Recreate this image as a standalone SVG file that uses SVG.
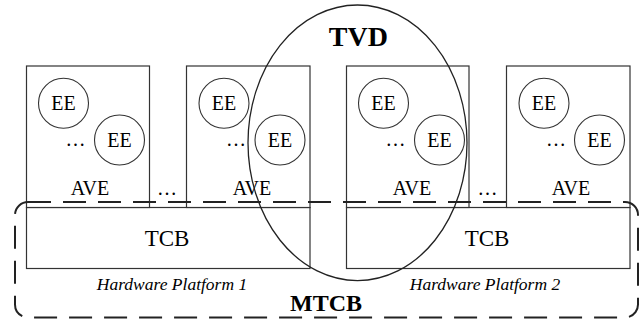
<svg xmlns="http://www.w3.org/2000/svg" width="639" height="320" viewBox="0 0 639 320" font-family="'Liberation Serif', 'DejaVu Serif', serif">
<style>
.box{fill:#fff;stroke:#333;stroke-width:1.2}
.ee{fill:none;stroke:#333;stroke-width:1.1}
text{font-family:'Liberation Serif','DejaVu Serif',serif;fill:#000;text-anchor:middle}
.ee-t{font-size:20px}
.ave-t{font-size:20px}
.tcb-t{font-size:23px}
.hw-t{font-size:17.5px;font-style:italic}
.b{font-weight:bold}
.dash{fill:none;stroke:#222;stroke-width:2;stroke-dasharray:23 12}
</style>
<g id="tcb1">
<rect class="box" x="26.5" y="207.5" width="283.5" height="61"/>
<text class="tcb-t" x="167" y="246">TCB</text>
<text class="hw-t" x="172" y="290">Hardware Platform 1</text>
</g>
<g id="tcb2">
<rect class="box" x="346.5" y="207.5" width="283.5" height="61"/>
<text class="tcb-t" x="487" y="246">TCB</text>
<text class="hw-t" x="485" y="290">Hardware Platform 2</text>
</g>
<g id="ave1">
<rect class="box" x="26.5" y="66" width="123" height="141.5"/>
<circle class="ee" cx="63.5" cy="103.3" r="25"/>
<text class="ee-t" x="63.5" y="110">EE</text>
<circle class="ee" cx="119.5" cy="140" r="25"/>
<text class="ee-t" x="119.5" y="147">EE</text>
<text class="ee-t" x="75.5" y="146">…</text>
<text class="ave-t" x="90" y="195">AVE</text>
</g>
<g id="ave2">
<rect class="box" x="186.5" y="66" width="123.5" height="141.5"/>
<circle class="ee" cx="224" cy="103.3" r="25"/>
<text class="ee-t" x="224" y="110">EE</text>
<circle class="ee" cx="280" cy="140" r="25"/>
<text class="ee-t" x="280" y="147">EE</text>
<text class="ee-t" x="236" y="146">…</text>
<text class="ave-t" x="252" y="195">AVE</text>
</g>
<g id="ave3">
<rect class="box" x="346.5" y="66" width="122.5" height="141.5"/>
<circle class="ee" cx="383.5" cy="103.3" r="25"/>
<text class="ee-t" x="383.5" y="110">EE</text>
<circle class="ee" cx="439.5" cy="140" r="25"/>
<text class="ee-t" x="439.5" y="147">EE</text>
<text class="ee-t" x="395.5" y="146">…</text>
<text class="ave-t" x="412" y="195">AVE</text>
</g>
<g id="ave4">
<rect class="box" x="506.5" y="66" width="123.5" height="141.5"/>
<circle class="ee" cx="544" cy="103.3" r="25"/>
<text class="ee-t" x="544" y="110">EE</text>
<circle class="ee" cx="599.5" cy="140" r="25"/>
<text class="ee-t" x="599.5" y="147">EE</text>
<text class="ee-t" x="556" y="146">…</text>
<text class="ave-t" x="571" y="195">AVE</text>
</g>
<g id="gaps">
<text class="ee-t" x="167" y="195">…</text>
<text class="ee-t" x="487.5" y="195">…</text>
</g>
<g id="mtcb">
<rect class="dash" x="15" y="202" width="623" height="115.5" rx="13"/>
<text class="b" style="font-size:24px" x="326" y="310.5">MTCB</text>
</g>
<g id="tvd">
<ellipse cx="357.5" cy="142.8" rx="109.5" ry="137.8" fill="none" stroke="#222" stroke-width="1.3"/>
<text class="b" style="font-size:28px" x="358.3" y="45.5">TVD</text>
</g>
</svg>
